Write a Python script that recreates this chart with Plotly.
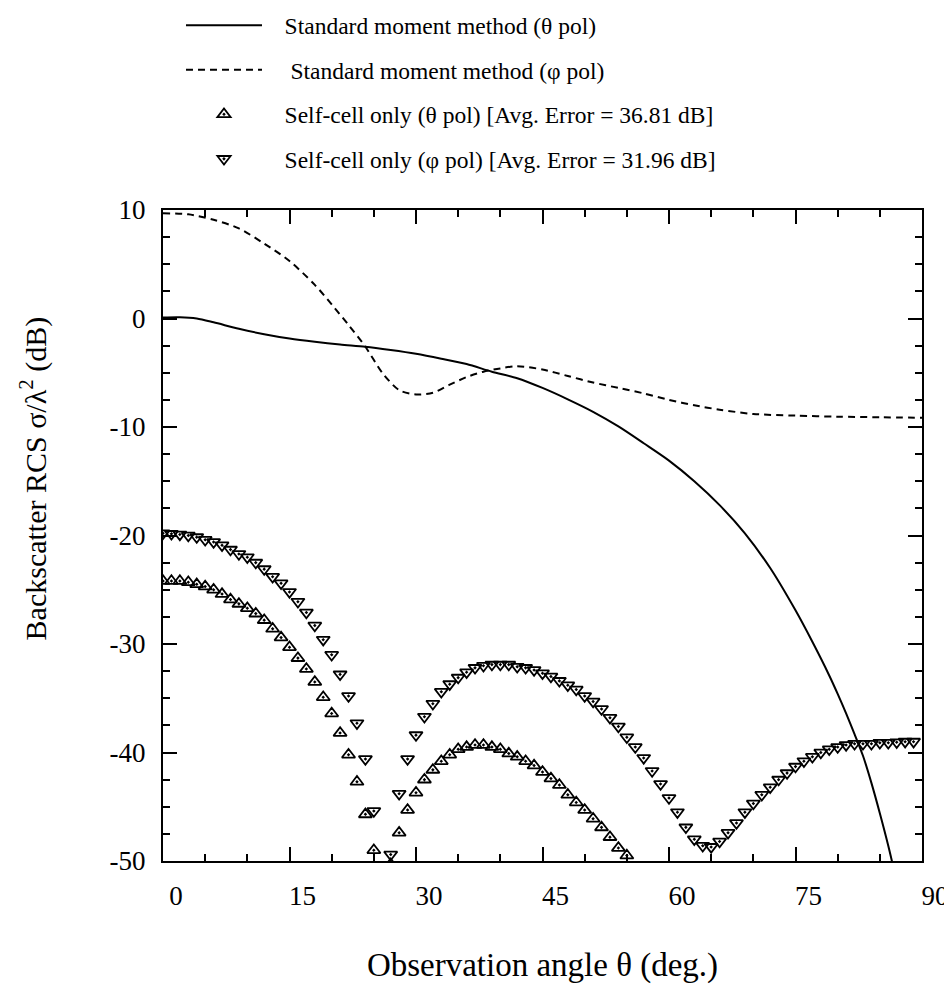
import plotly.graph_objects as go

# ---- data ----
angle_line_theta = [0, 2, 4, 6, 9, 12, 15, 18, 21, 24, 27, 30, 33, 36, 39, 42, 45, 48, 51, 54,
                    57, 60, 63, 66, 69, 72, 75, 77, 79, 80, 81, 82, 83, 84, 85, 86, 87]
rcs_theta = [0.1, 0.12, 0.0, -0.35, -0.95, -1.45, -1.85, -2.15, -2.4, -2.6, -2.9, -3.25, -3.7,
             -4.2, -4.9, -5.5, -6.4, -7.45, -8.6, -9.95, -11.5, -13.1, -15.0, -17.2, -19.8,
             -23.0, -26.9, -29.8, -32.9, -34.6, -36.4, -38.3, -40.3, -42.8, -45.6, -48.6,
             -51.9]

angle_line_phi = [0, 3, 6, 9, 12, 15, 18, 20, 22, 24, 26, 28, 30, 32, 34, 36, 38, 40, 42, 45, 48,
                  51, 54, 57, 60, 63, 66, 70, 75, 80, 85, 90]
rcs_phi = [9.7, 9.6, 9.1, 8.3, 6.9, 5.3, 3.1, 1.3, -0.6, -2.6, -5.0, -6.6, -7.0, -6.85, -6.1, -5.4,
           -4.9, -4.6, -4.4, -4.7, -5.3, -5.9, -6.4, -6.9, -7.5, -8.0, -8.4, -8.8, -8.95, -9.05,
           -9.1, -9.15]

angle_pts = list(range(0, 90))
self_theta = [-24.2, -24.2, -24.2, -24.3, -24.5, -24.7, -25.0, -25.4, -25.9, -26.3,
              -26.7, -27.2, -27.8, -28.6, -29.4, -30.3, -31.3, -32.3, -33.5, -34.9,
              -36.4, -38.2, -40.2, -42.7, -45.7, -49.0, None, -50.3, -47.4, -45.3,
              -43.7, -42.5, -41.6, -40.8, -40.2, -39.7, -39.5, -39.3, -39.3, -39.5,
              -39.7, -40.1, -40.4, -40.8, -41.2, -41.8, -42.4, -43.0, -43.9, -44.6,
              -45.3, -46.1, -46.9, -47.8, -48.8, -49.5, None, None, None, None,
              None, None, None, None, None, None, None, None, None, None,
              None, None, None, None, None, None, None, None, None, None,
              None, None, None, None, None, None, None, None, None, None]
self_phi = [-19.8, -19.85, -19.9, -20.0, -20.15, -20.4, -20.6, -20.9, -21.3, -21.7,
            -22.0, -22.5, -23.1, -23.8, -24.4, -25.2, -26.1, -27.1, -28.3, -29.6,
            -31.0, -32.8, -34.8, -37.3, -40.6, -45.4, None, -49.4, -43.8, -40.6,
            -38.4, -36.7, -35.5, -34.4, -33.7, -33.1, -32.6, -32.2, -32.0, -31.9,
            -31.9, -31.9, -32.1, -32.2, -32.4, -32.7, -33.0, -33.4, -33.8, -34.2,
            -34.8, -35.3, -36.0, -36.8, -37.6, -38.6, -39.5, -40.5, -41.7, -42.9,
            -44.2, -45.5, -46.9, -48.0, -48.6, -48.7, -48.2, -47.4, -46.5, -45.5,
            -44.7, -43.9, -43.2, -42.5, -41.9, -41.3, -40.8, -40.4, -40.0, -39.7,
            -39.5, -39.3, -39.2, -39.2, -39.2, -39.1, -39.1, -39.05, -39.0, -39.0]

x_ticks = [0, 15, 30, 45, 60, 75, 90]
x_labels = ["0", "15", "30", "45", "60", "75", "90"]
y_ticks = [10, 0, -10, -20, -30, -40, -50]
y_labels = ["10", "0", "-10", "-20", "-30", "-40", "-50"]

FONT = "Liberation Serif, Times New Roman, serif"
SP = "\u00a0"

fig = go.Figure()
fig.add_trace(go.Scatter(x=angle_line_theta, y=rcs_theta, mode="lines",
                         line=dict(color="black", width=2, shape="spline", smoothing=0.8),
                         name=SP * 3 + "Standard moment method (θ pol)", legendgroup="a"))
fig.add_trace(go.Scatter(x=angle_line_phi, y=rcs_phi, mode="lines",
                         line=dict(color="black", width=2, dash="7px,5px", shape="spline",
                                   smoothing=0.8),
                         name=SP * 4 + "Standard moment method (φ pol)", legendgroup="b"))
fig.add_trace(go.Scatter(x=angle_pts, y=self_theta, mode="markers",
                         marker=dict(symbol="triangle-up-open-dot", size=11.5, color="black",
                                     line=dict(width=1.8, color="black")),
                         name=SP * 3 + "Self-cell only (θ pol) [Avg. Error = 36.81 dB]",
                         legendgroup="c"))
fig.add_trace(go.Scatter(x=angle_pts, y=self_phi, mode="markers",
                         marker=dict(symbol="triangle-down-open-dot", size=11.5, color="black",
                                     line=dict(width=1.8, color="black")),
                         name=SP * 3 + "Self-cell only (φ pol) [Avg. Error = 31.96 dB]",
                         legendgroup="d"))

axis_common = dict(showline=True, linecolor="black", linewidth=2, mirror="allticks",
                   ticks="inside", ticklen=14, tickwidth=2, tickcolor="black",
                   showgrid=False, zeroline=False,
                   tickfont=dict(family=FONT, size=27, color="black"))

fig.update_xaxes(range=[0, 90], tickvals=x_ticks, ticktext=x_labels,
                 ticklabelshift=13, ticklabelstandoff=10,
                 minor=dict(dtick=5, tick0=0, ticks="inside", ticklen=7, tickwidth=2,
                            tickcolor="black", showgrid=False),
                 title=dict(text="Observation angle θ (deg.)", standoff=42,
                            font=dict(family=FONT, size=33, color="black")),
                 **axis_common)
fig.update_yaxes(range=[-50, 10], tickvals=y_ticks, ticktext=y_labels, ticklabelstandoff=10,
                 minor=dict(dtick=2.5, tick0=0, ticks="inside", ticklen=7, tickwidth=2,
                            tickcolor="black", showgrid=False),
                 **axis_common)

fig.add_annotation(text="Backscatter RCS σ/λ<sup>2</sup> (dB)", textangle=-90,
                   xref="paper", yref="paper", x=-0.171, y=0.588, xanchor="center",
                   yanchor="middle", showarrow=False,
                   font=dict(family=FONT, size=30, color="black"))

fig.update_layout(
    width=944, height=986,
    margin=dict(l=155, r=30, t=202, b=133, autoexpand=False),
    paper_bgcolor="white", plot_bgcolor="white",
    showlegend=True,
    legend=dict(x=0.0237, y=1.3173, xanchor="left", yanchor="top",
                font=dict(family=FONT, size=23.5, color="black"),
                bgcolor="rgba(0,0,0,0)", tracegroupgap=11, traceorder="grouped",
                itemwidth=76),
)

fig.write_html("out.html")
